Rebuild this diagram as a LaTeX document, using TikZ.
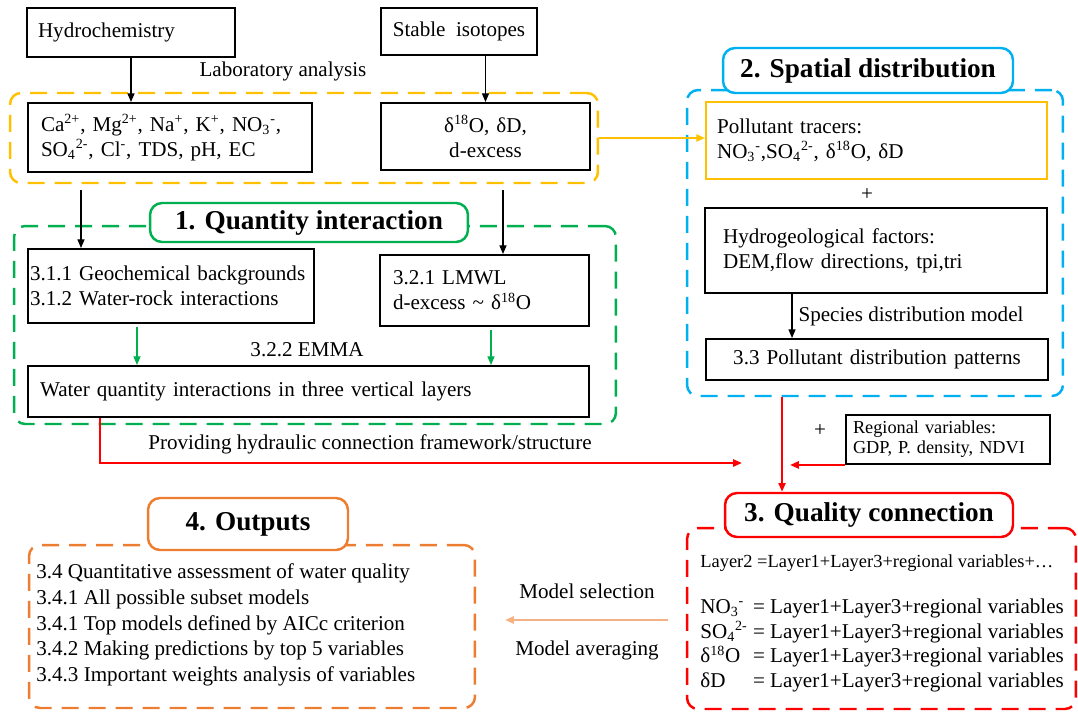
\documentclass[tikz,border=0pt]{standalone}
\usepackage{fontspec}
\setmainfont{Liberation Serif}
\usetikzlibrary{arrows.meta}

\definecolor{labgold}{HTML}{FFC000}
\definecolor{quantgreen}{HTML}{00B050}
\definecolor{spatblue}{HTML}{00B0F0}
\definecolor{qualred}{HTML}{FF0000}
\definecolor{outorange}{HTML}{ED7D31}
\definecolor{selsalmon}{HTML}{F4B183}

\newcommand{\bodyfont}{\fontsize{12}{14.2}\selectfont}
\newcommand{\smallfont}{\fontsize{10.4}{11.4}\selectfont}
\newcommand{\headfont}{\fontsize{15.5}{18}\selectfont\bfseries}
\newcommand{\chemion}[3]{#1\textsubscript{#2}\textsuperscript{#3}}

\begin{document}
\begin{tikzpicture}[x=0.02cm, y=-0.02cm, >={Triangle[length=5pt,width=4pt]},
    every node/.style={font=\bodyfont},
    box/.style={draw, line width=1.1pt, inner ysep=0pt, align=left},
    groupframe/.style={draw=#1, dash pattern=on 0.34cm off 0.2cm, line width=1.4pt, rounded corners=0.22cm, inner sep=0pt},
    grouphead/.style={draw=#1, fill=white, line width=1.4pt, rounded corners=0.24cm, font=\headfont, inner sep=0pt},
    link/.style={->, line width=0.8pt}]
    \useasboundingbox (0,0) rectangle (1078,711);
    % Group frames
    \node (labgrp) at (304,138) [groupframe=labgold, minimum width=11.76cm, minimum height=1.8cm] {};
    \node (quantgrp) at (315,325) [groupframe=quantgreen, minimum width=12.04cm, minimum height=3.96cm] {};
    \node (spatgrp) at (875,243) [groupframe=spatblue, minimum width=7.52cm, minimum height=6.12cm] {};
    \node (qualgrp) at (881.5,618.5) [groupframe=qualred, minimum width=7.78cm, minimum height=3.62cm] {};
    \node (outgrp) at (252,626.5) [groupframe=outorange, minimum width=8.92cm, minimum height=3.26cm] {};
    % Group titles
    \node (quanthead) at (309,222.5) [grouphead=quantgreen, minimum width=6.36cm, minimum height=0.78cm] {1. Quantity interaction};
    \node (spathead) at (868,70.5) [grouphead=spatblue, minimum width=5.8cm, minimum height=0.9cm] {2. Spatial distribution};
    \node (qualhead) at (869,515) [grouphead=qualred, minimum width=5.76cm, minimum height=0.88cm] {3. Quality connection};
    \node (outhead) at (248,524) [grouphead=outorange, minimum width=4cm, minimum height=1.04cm] {4. Outputs};
    % Inputs
    \node (hydro) at (131,32.5) [box, text width=3.72cm, inner xsep=0.22cm, minimum height=0.98cm] {Hydrochemistry};
    \node (stable) at (459,31.5) [box, inner xsep=0pt, minimum width=3.12cm, minimum height=0.94cm] {Stable~ isotopes};
    \node (labtxt) at (283,71) {Laboratory analysis};
    \node (ions) at (170,137.5) [box, text width=5.16cm, inner xsep=0.26cm, minimum height=1.38cm] {Ca\textsuperscript{2+}, Mg\textsuperscript{2+}, Na\textsuperscript{+}, K\textsuperscript{+}, \chemion{NO}{3}{-},\\ \chemion{SO}{4}{2-}, Cl\textsuperscript{-}, TDS, pH, EC};
    \node (iso) at (485.5,136.5) [box, text width=4.18cm, inner xsep=0pt, minimum height=1.34cm, align=center] {δ\textsuperscript{18}O, δD,\\ d-excess};
    \coordinate (laba) at (81,190);
    \coordinate (labb) at (503,190);
    % Quantity interaction
    \node (geo) at (171,286) [box, text width=5.64cm, inner xsep=0.04cm, minimum height=1.48cm] {3.1.1 Geochemical backgrounds\\ 3.1.2 Water-rock interactions};
    \node (lmwl) at (484.5,290.5) [box, text width=3.66cm, inner xsep=0.26cm, minimum height=1.42cm] {3.2.1 LMWL\\ d-excess \textasciitilde{} δ\textsuperscript{18}O};
    \node (emma) at (307,350) {3.2.2 EMMA};
    \node (water) at (308.5,391.5) [box, text width=10.74cm, inner xsep=0.24cm, minimum height=1.02cm] {Water quantity interactions in three vertical layers};
    \node (hydlbl) at (370,444) {Providing hydraulic connection framework/structure};
    \coordinate (hydin) at (742,463);
    % Spatial distribution
    \node (tracer) at (876.5,140.5) [box, draw=labgold, text width=6.38cm, inner xsep=0.22cm, minimum height=1.54cm] {Pollutant tracers:\\ \chemion{NO}{3}{-},\chemion{SO}{4}{2-}, δ\textsuperscript{18}O, δD};
    \node (plusa) at (867,195) {+};
    \node (hydgeo) at (876,250.5) [box, text width=6.12cm, inner xsep=0.36cm, minimum height=1.7cm] {Hydrogeological factors:\\ DEM,flow directions, tpi,tri};
    \node (pattern) at (877,359.5) [box, text width=6.84cm, inner xsep=0pt, minimum height=0.82cm, align=center] {3.3 Pollutant distribution patterns};
    % Quality connection
    \node (plusb) at (820,431) {+};
    \node (region) at (948,439.5) [box, font=\smallfont, text width=3.8cm, inner xsep=0.14cm, minimum height=0.98cm] {Regional variables:\\ GDP, P. density, NDVI};
    \coordinate (regin) at (790,463);
    \node (layer2) at (700,563) [anchor=west, inner sep=0pt, font=\fontsize{10.5}{12}\selectfont] {Layer2 =Layer1+Layer3+regional variables+…};
    \node (eqs) at (700,645.5) [anchor=west, inner sep=0pt] {\begin{tabular}{@{}l@{\ }l@{}}
        \chemion{NO}{3}{-} & = Layer1+Layer3+regional variables\\
        \chemion{SO}{4}{2-} & = Layer1+Layer3+regional variables\\
        δ\textsuperscript{18}O & = Layer1+Layer3+regional variables\\
        δD & = Layer1+Layer3+regional variables
        \end{tabular}};
    % Outputs
    \node (outlist) at (36,625) [anchor=west, inner sep=0pt, align=left, font=\fontsize{12}{14.6}\selectfont] {3.4 Quantitative assessment of water quality\\ 3.4.1 All possible subset models\\ 3.4.1 Top models defined by AICc criterion\\ 3.4.2 Making predictions by top 5 variables\\ 3.4.3 Important weights analysis of variables};
    \coordinate (selfrom) at (668,620);
    \coordinate (selto) at (505,620);
    \node (msel) at (587,591) {Model selection};
    \node (mavg) at (587,650) {Model averaging};
    % Connectors
    \draw[link] (hydro.south) -- (hydro.south |- ions.north);
    \draw[link] (stable.south -| iso.north) -- (iso.north);
    \draw[link, labgold, line width=1.2pt] (labgrp.east) -- (labgrp.east -| tracer.west);
    \draw[link] (laba) -- (laba |- geo.north);
    \draw[link] (labb) -- (labb |- lmwl.north);
    \draw[link, quantgreen] ([xshift=-0.68cm, yshift=-0.06cm]geo.south) -- ([xshift=-0.68cm]geo.south |- water.north);
    \draw[link, quantgreen] ([xshift=0.13cm, yshift=-0.06cm]lmwl.south) -- ([xshift=0.13cm]lmwl.south |- water.north);
    \draw[link] ([xshift=-1.68cm]hydgeo.south) -- ([xshift=-1.68cm]hydgeo.south |- pattern.north) node[midway, right] {Species distribution model};
    \draw[link, qualred, line width=1.2pt] ([xshift=-4.17cm]water.south) |- (hydin);
    \draw[link, qualred, line width=1.2pt] ([xshift=-1.86cm]spatgrp.south) -- ([xshift=-1.86cm]spatgrp.south |- qualhead.north);
    \draw[link, qualred, line width=1.2pt] (region.south west) -- (region.south west -| regin);
    \draw[link, selsalmon, line width=1.5pt] (selfrom) -- (selto);
\end{tikzpicture}
\end{document}
